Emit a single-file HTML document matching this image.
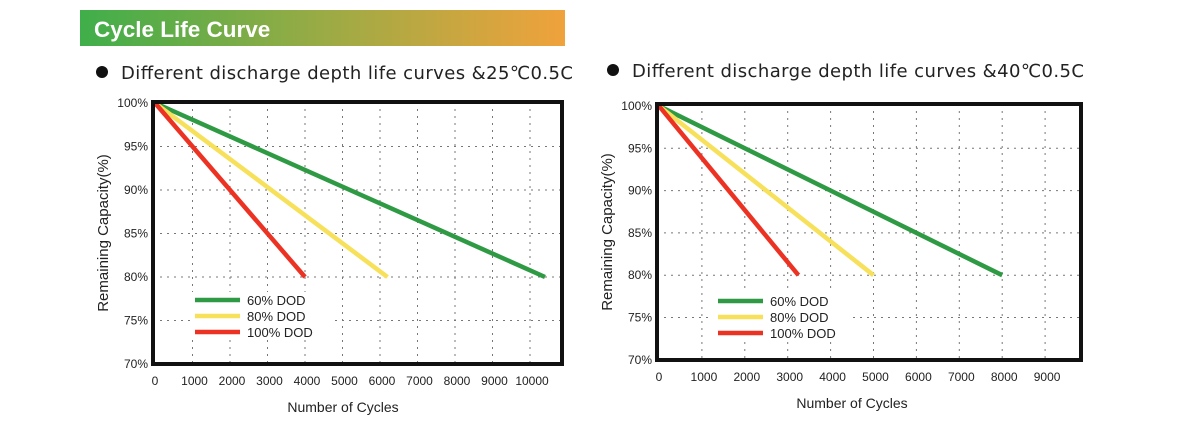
<!DOCTYPE html>
<html><head><meta charset="utf-8"><style>
body{margin:0;width:1178px;height:432px;background:#fff;overflow:hidden;font-family:"Liberation Sans",Arial,sans-serif;}
svg{position:absolute;left:0;top:0}
</style></head><body>
<svg id="s" width="1178" height="432">
<defs><linearGradient id="g" x1="0" x2="1"><stop offset="0" stop-color="#3fae4a"/><stop offset="0.5" stop-color="#9aab45"/><stop offset="1" stop-color="#f0a23c"/></linearGradient></defs>
<rect x="80" y="10" width="485" height="36" fill="url(#g)"/>
<text x="94" y="37" font-size="22.5" font-weight="bold" fill="#fff" font-family="'Liberation Sans',sans-serif">Cycle Life Curve</text>
<circle cx="102" cy="72" r="6" fill="#111"/>
<text x="121" y="79" font-size="18" fill="#222" font-family="'DejaVu Sans','Noto Sans CJK SC',sans-serif" textLength="452">Different discharge depth life curves &amp;25℃0.5C</text>
<circle cx="613" cy="70" r="6" fill="#111"/>
<text x="632" y="77" font-size="18" fill="#222" font-family="'DejaVu Sans','Noto Sans CJK SC',sans-serif" textLength="452">Different discharge depth life curves &amp;40℃0.5C</text>
<g id="c1"></g>
<g id="c2"></g>
</svg>
<script>
const yTicks=[100,95,90,85,80,75,70];
const xTicks1=[0,1000,2000,3000,4000,5000,6000,7000,8000,9000,10000];
const xTicks2=[0,1000,2000,3000,4000,5000,6000,7000,8000,9000];
const seriesNames=["60% DOD","80% DOD","100% DOD"];
const seriesColors=["#2f9a44","#f7e05a","#ec3223"];
const endCycles1=[10400,6200,4000];
const endCaps1=[80,80,80];
const endCycles2=[8000,5000,3250];
const endCaps2=[80,80,80];
const NS="http://www.w3.org/2000/svg";
function mk(p,t,a){const e=document.createElementNS(NS,t);for(const k in a)e.setAttribute(k,a[k]);p.appendChild(e);return e;}
function draw(g,cfg,xTicks,ends,caps){
 const X=c=>cfg.x0+c*cfg.kx, Y=v=>cfg.y100+(100-v)/5*cfg.ky;
 xTicks.slice(1).forEach(c=>{const l=mk(g,'line',{x1:X(c),x2:X(c),y1:cfg.top,y2:cfg.bot,stroke:'#777','stroke-dasharray':'2,5'});});
 yTicks.slice(1,-1).forEach(v=>{const l=mk(g,'line',{x1:cfg.left,x2:cfg.right,y1:Y(v),y2:Y(v),stroke:'#777','stroke-dasharray':'2,5'});});
 mk(g,'rect',{x:cfg.lx-5,y:cfg.ly-8,width:140,height:48,fill:'#fff'});
 ends.forEach((c,i)=>{const l=mk(g,'line',{x1:X(0),y1:Y(100),x2:X(c),y2:Y(caps[i]),stroke:seriesColors[i],'stroke-width':4.5});});
 seriesNames.forEach((n,i)=>{const y=cfg.ly+i*16;const l=mk(g,'line',{x1:cfg.lx,x2:cfg.lx+45,y1:y,y2:y,stroke:seriesColors[i],'stroke-width':4.5});
  const t=mk(g,'text',{x:cfg.lx+52,y:y+5,'font-size':13,fill:'#222'});t.textContent=n;});
 const b=mk(g,'rect',{x:cfg.left,y:cfg.top,width:cfg.right-cfg.left,height:cfg.bot-cfg.top,fill:'none',stroke:'#111','stroke-width':4});
 yTicks.forEach(v=>{const t=mk(g,'text',{x:cfg.left-5,y:Y(v)+4,'font-size':12,'text-anchor':'end',fill:'#222'});t.textContent=v+'%';});
 xTicks.forEach(c=>{const t=mk(g,'text',{x:X(c)+(c===0?0:2),y:cfg.bot+21,'font-size':12,'text-anchor':'middle',fill:'#222'});t.textContent=c;});
 const xt=mk(g,'text',{x:cfg.xtx,y:cfg.bot+48,'font-size':14,'text-anchor':'middle',fill:'#222'});xt.textContent='Number of Cycles';
 const yt=mk(g,'text',{x:0,y:0,'font-size':15,'text-anchor':'middle',fill:'#222',transform:`translate(${cfg.ytx},${(cfg.top+cfg.bot)/2}) rotate(-90)`});yt.textContent='Remaining Capacity(%)';
}
draw(document.getElementById('c1'),{x0:155,kx:0.0375,y100:103,ky:43.5,left:153,right:562,top:102,bot:364,lx:195,ly:300,xtx:343,ytx:108},xTicks1,endCycles1,endCaps1);
draw(document.getElementById('c2'),{x0:659,kx:0.0429,y100:106,ky:42.3,left:657,right:1081,top:104,bot:360,lx:718,ly:301,xtx:852,ytx:612},xTicks2,endCycles2,endCaps2);
</script>
</body></html>
